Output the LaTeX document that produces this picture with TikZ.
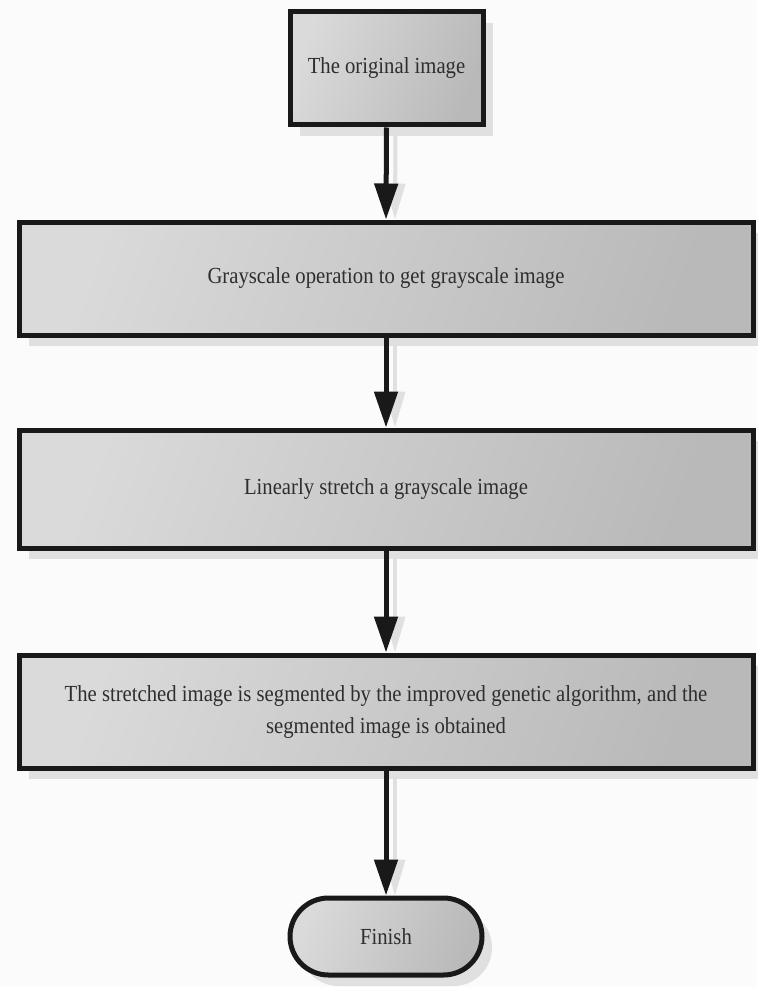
\documentclass[tikz,border=0pt]{standalone}
\usepackage{fontspec}
\setmainfont[FakeStretch=0.9]{Liberation Serif}
\usetikzlibrary{arrows.meta,shadows,shapes.misc}
\definecolor{bgc}{HTML}{FBFBFB}
\definecolor{txt}{HTML}{2E2E2E}
\definecolor{shc}{HTML}{E0E0E0}
\definecolor{gl}{HTML}{DADADA}
\definecolor{gd}{HTML}{B9B9B9}
\tikzset{
  boxstyle/.style={draw=black!90, line width=5pt, left color=gl, right color=gd, shading angle=70,
    text=txt, font=\fontsize{23}{32}\selectfont, align=center, inner sep=0pt,
    drop shadow={shadow xshift=10pt, shadow yshift=-11pt, fill=shc, opacity=1}},
  finstyle/.style={boxstyle, rounded rectangle},
  arrowline/.style={line width=5pt, draw=black!90, -{Triangle[length=36pt,width=23pt]}},
  arrowshadow/.style={line width=4pt, draw=shc, -{Triangle[length=36pt,width=20pt]}, transform canvas={xshift=9pt}}
}
\begin{document}
\begin{tikzpicture}[x=1pt,y=-1pt]
\fill[bgc] (0,0) rectangle (757,987);
\useasboundingbox (0,0) rectangle (757,987);
\node[boxstyle, minimum width=193pt, minimum height=113pt] (b1) at (386.5,68.5) {The original image};
\node[boxstyle, minimum width=734pt, minimum height=113pt] (b2) at (386,278.5) {Grayscale operation to get grayscale image};
\node[boxstyle, minimum width=734pt, minimum height=118pt] (b3) at (386,489) {Linearly stretch a grayscale image};
\node[boxstyle, minimum width=734pt, minimum height=113pt] (b4) at (386,711.5) {The stretched image is segmented by the improved genetic algorithm, and the\\segmented image is obtained};
\node[finstyle, minimum width=192pt, minimum height=77pt] (fin) at (386,936.5) {Finish};
\foreach \a/\b in {b1/b2,b2/b3,b3/b4,b4/fin}{
  \draw[arrowshadow] (\a.south) -- (\b.north);
}
\foreach \a/\b in {b1/b2,b2/b3,b3/b4,b4/fin}{
  \draw[arrowline] (\a.south) -- (\b.north);
}
\end{tikzpicture}
\end{document}
